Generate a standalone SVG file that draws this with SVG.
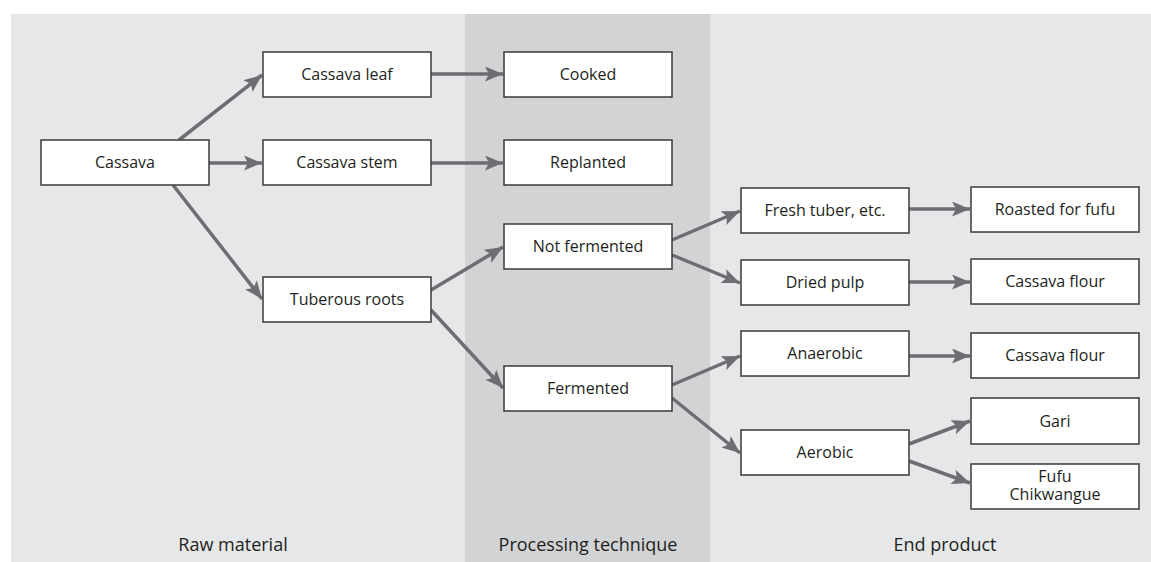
<svg xmlns="http://www.w3.org/2000/svg" width="1151" height="562" viewBox="0 0 1151 562">
<style>
.node rect{fill:#fff;stroke:#3a3a3c;stroke-width:1.5}
.node text, .lbl{font-family:"Open Sans","Liberation Sans",sans-serif;fill:#231f20;text-anchor:middle}
.node text{font-size:16px}
.lbl{font-size:18px}
.conn line{stroke:#6d6e71;stroke-width:3.5;marker-end:url(#ah)}
</style>
<defs>
<marker id="ah" markerUnits="userSpaceOnUse" markerWidth="20" markerHeight="16" refX="18" refY="7.5" orient="auto" viewBox="0 0 20 16">
<path d="M0,0 L18,7.5 L0,15 L4,7.5 Z" fill="#6d6e71"/>
</marker>
</defs>
<rect x="0" y="0" width="1151" height="562" fill="#fff"/>
<rect x="11" y="14" width="1140" height="548" fill="#e6e7e8"/>
<rect x="465" y="14" width="245" height="548" fill="#d1d3d4"/>

<g class="conn">
<line x1="179" y1="140" x2="262" y2="75"/>
<line x1="209" y1="163" x2="262" y2="163"/>
<line x1="173" y1="185" x2="262" y2="299"/>
<line x1="431" y1="74" x2="503" y2="74"/>
<line x1="431" y1="163" x2="503" y2="163"/>
<line x1="431" y1="290" x2="503" y2="247"/>
<line x1="431" y1="310" x2="503" y2="388"/>
<line x1="672" y1="240" x2="740" y2="211"/>
<line x1="672" y1="255" x2="740" y2="283"/>
<line x1="672" y1="385" x2="740" y2="356"/>
<line x1="672" y1="398" x2="740" y2="453"/>
<line x1="909" y1="209" x2="970" y2="209"/>
<line x1="909" y1="282" x2="970" y2="282"/>
<line x1="909" y1="356" x2="970" y2="356"/>
<line x1="909" y1="444" x2="970" y2="421"/>
<line x1="909" y1="461" x2="970" y2="483"/>
</g>

<g id="n-cassava" class="node"><rect x="41" y="140" width="168" height="45"/><text x="125" y="168">Cassava</text></g>
<g id="n-leaf" class="node"><rect x="263" y="52" width="168" height="45"/><text x="347" y="80">Cassava leaf</text></g>
<g id="n-stem" class="node"><rect x="263" y="140" width="168" height="45"/><text x="347" y="168">Cassava stem</text></g>
<g id="n-roots" class="node"><rect x="263" y="277" width="168" height="45"/><text x="347" y="305">Tuberous roots</text></g>
<g id="n-cooked" class="node"><rect x="504" y="52" width="168" height="45"/><text x="588" y="80">Cooked</text></g>
<g id="n-replanted" class="node"><rect x="504" y="140" width="168" height="45"/><text x="588" y="168">Replanted</text></g>
<g id="n-notferm" class="node"><rect x="504" y="224" width="168" height="45"/><text x="588" y="252">Not fermented</text></g>
<g id="n-ferm" class="node"><rect x="504" y="366" width="168" height="45"/><text x="588" y="394">Fermented</text></g>
<g id="n-fresh" class="node"><rect x="741" y="188" width="168" height="45"/><text x="825" y="216">Fresh tuber, etc.</text></g>
<g id="n-dried" class="node"><rect x="741" y="260" width="168" height="45"/><text x="825" y="288">Dried pulp</text></g>
<g id="n-anaerobic" class="node"><rect x="741" y="331" width="168" height="45"/><text x="825" y="359">Anaerobic</text></g>
<g id="n-aerobic" class="node"><rect x="741" y="430" width="168" height="45"/><text x="825" y="458">Aerobic</text></g>
<g id="n-roasted" class="node"><rect x="971" y="187" width="168" height="45"/><text x="1055" y="215">Roasted for fufu</text></g>
<g id="n-flour1" class="node"><rect x="971" y="259" width="168" height="45"/><text x="1055" y="287">Cassava flour</text></g>
<g id="n-flour2" class="node"><rect x="971" y="333" width="168" height="45"/><text x="1055" y="361">Cassava flour</text></g>
<g id="n-gari" class="node"><rect x="971" y="398" width="168" height="46"/><text x="1055" y="427">Gari</text></g>
<g id="n-fufu" class="node"><rect x="971" y="464" width="168" height="45"/><text x="1055" y="482">Fufu</text><text x="1055" y="500">Chikwangue</text></g>

<text class="lbl" x="233" y="551">Raw material</text>
<text class="lbl" x="588" y="551">Processing technique</text>
<text class="lbl" x="945" y="551">End product</text>
</svg>
